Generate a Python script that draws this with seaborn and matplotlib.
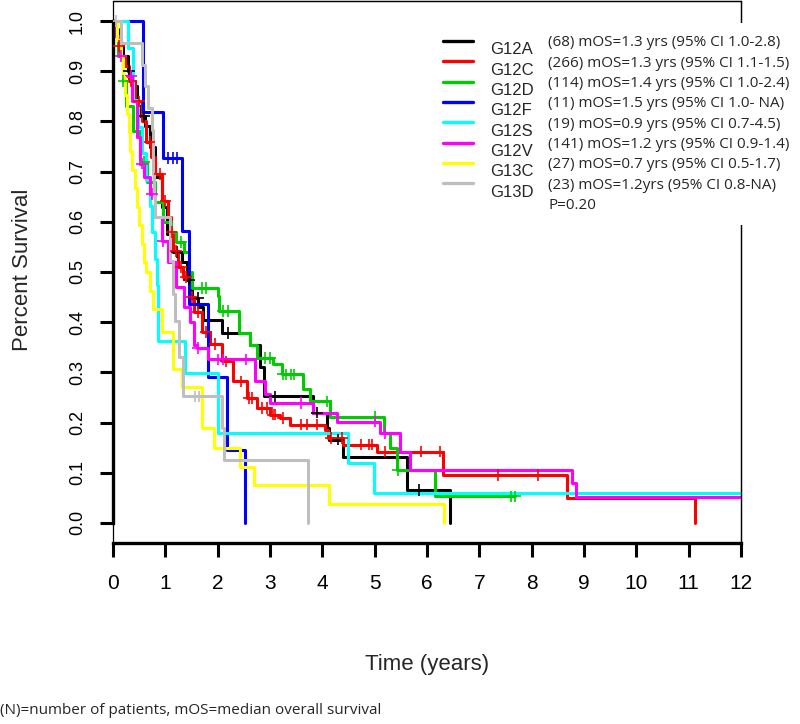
import numpy as np
import pandas as pd
import seaborn as sns
import matplotlib.pyplot as plt
from matplotlib.lines import Line2D
from matplotlib.patches import Rectangle

sns.set_style('white')
plt.rcParams['font.family'] = ['Liberation Sans', 'DejaVu Sans']

groups = ['G12A', 'G12C', 'G12D', 'G12F', 'G12S', 'G12V', 'G13C', 'G13D']
colors = ['#000000', '#ff0000', '#00cd00', '#0000ff', '#00ffff', '#ff00ff', '#ffff00', '#bebebe']
notes = ['(68) mOS=1.3 yrs (95% CI 1.0-2.8)',
         '(266) mOS=1.3 yrs (95% CI 1.1-1.5)',
         '(114) mOS=1.4 yrs (95% CI 1.0-2.4)',
         '(11) mOS=1.5 yrs (95% CI 1.0- NA)',
         '(19) mOS=0.9 yrs (95% CI 0.7-4.5)',
         '(141) mOS=1.2 yrs (95% CI 0.9-1.4)',
         '(27) mOS=0.7 yrs (95% CI 0.5-1.7)',
         '(23) mOS=1.2yrs (95% CI 0.8-NA)']
p_value = 'P=0.20'

# step functions: survival holds from each time onwards
g12a_t = [0, 0.05, 0.1, 0.15, 0.2, 0.28, 0.36, 0.45, 0.52, 0.61, 0.7, 0.8, 0.93, 1.03, 1.15, 1.32, 1.41,
          1.5, 1.63, 1.72, 2.08, 2.62, 2.81, 2.88, 3.83, 4.09, 4.12, 4.4, 5.61, 6.44]
g12a_s = [1.0, 0.985, 0.97, 0.956, 0.93, 0.9, 0.87, 0.83, 0.81, 0.79, 0.75, 0.69, 0.63, 0.575, 0.54, 0.52, 0.485,
          0.449, 0.43, 0.405, 0.379, 0.355, 0.31, 0.252, 0.22, 0.19, 0.166, 0.132, 0.066, 0.0]
g12a_c = [0.3, 0.6, 1.22, 1.45, 1.62, 2.2, 3.1, 3.9, 4.3, 5.84]

g12c_t = [0, 0.05, 0.1, 0.15, 0.23, 0.3, 0.42, 0.55, 0.64, 0.72, 0.8, 0.93, 1.06, 1.1, 1.15, 1.25, 1.34, 1.45,
          1.54, 1.7, 1.85, 2.08, 2.3, 2.56, 2.75, 3.0, 3.19, 3.38, 4.05, 4.1, 4.4, 5.04, 6.31, 8.68, 11.13]
g12c_s = [1.0, 0.97, 0.95, 0.93, 0.91, 0.88, 0.84, 0.8, 0.76, 0.73, 0.695, 0.642, 0.61, 0.58, 0.542, 0.51, 0.49,
          0.45, 0.42, 0.38, 0.356, 0.322, 0.282, 0.249, 0.229, 0.216, 0.209, 0.196, 0.186, 0.169, 0.156, 0.142,
          0.096, 0.049, 0.0]
g12c_c = [0.12, 0.35, 0.5, 0.7, 0.9, 1.0, 1.12, 1.2, 1.3, 1.4, 1.5, 1.62, 1.78, 1.95, 2.15, 2.45, 2.6, 2.66,
          2.85, 2.95, 3.05, 3.1, 3.25, 3.6, 3.7, 3.9, 4.17, 4.37, 4.74, 4.9, 4.95, 5.2, 5.89, 6.24, 7.36, 8.13]

g12d_t = [0, 0.05, 0.1, 0.2, 0.25, 0.39, 0.52, 0.65, 0.8, 0.96, 1.1, 1.2, 1.35, 1.45, 1.5, 2.0, 2.03, 2.4,
          2.62, 2.75, 3.06, 3.22, 3.64, 3.77, 4.15, 5.17, 5.3, 5.42, 6.16, 7.69]
g12d_s = [1.0, 0.97, 0.93, 0.88, 0.83, 0.78, 0.72, 0.68, 0.64, 0.6, 0.58, 0.56, 0.54, 0.5, 0.468, 0.452, 0.422,
          0.379, 0.355, 0.329, 0.316, 0.296, 0.266, 0.242, 0.212, 0.18, 0.15, 0.106, 0.053, 0.053]
g12d_c = [0.2, 0.6, 1.3, 1.7, 1.78, 2.1, 2.2, 2.9, 3.0, 3.25, 3.3, 3.4, 3.45, 4.08, 5.0, 5.45, 7.6, 7.69]

g12f_t = [0, 0.57, 0.96, 1.31, 1.45, 1.82, 2.18, 2.52]
g12f_s = [1.0, 0.818, 0.727, 0.582, 0.436, 0.291, 0.145, 0.0]
g12f_c = [1.05, 1.15, 1.22]

g12s_t = [0, 0.29, 0.39, 0.48, 0.55, 0.64, 0.7, 0.75, 0.8, 0.84, 0.86, 1.38, 2.0, 4.5, 4.98, 12.0]
g12s_s = [1.0, 0.947, 0.842, 0.789, 0.737, 0.684, 0.632, 0.579, 0.526, 0.474, 0.362, 0.298, 0.179, 0.119,
          0.059, 0.059]
g12s_c = []

g12v_t = [0, 0.04, 0.13, 0.2, 0.36, 0.45, 0.52, 0.6, 0.71, 0.8, 0.93, 1.05, 1.2, 1.35, 1.47, 1.54, 1.6, 1.82,
          2.72, 2.91, 3.0, 3.83, 4.28, 5.1, 5.49, 5.68, 8.77, 8.85, 12.0]
g12v_s = [1.0, 0.97, 0.93, 0.89, 0.84, 0.77, 0.716, 0.69, 0.655, 0.61, 0.562, 0.52, 0.47, 0.43, 0.4, 0.355,
          0.349, 0.326, 0.282, 0.257, 0.239, 0.219, 0.202, 0.179, 0.142, 0.106, 0.079, 0.052, 0.052]
g12v_c = [0.15, 0.35, 0.55, 0.75, 0.95, 1.62, 2.0, 2.1, 2.55, 3.6, 5.0, 5.2]

g13c_t = [0, 0.08, 0.15, 0.2, 0.23, 0.27, 0.3, 0.33, 0.36, 0.42, 0.45, 0.5, 0.55, 0.6, 0.64, 0.7, 0.77, 0.93,
          1.15, 1.32, 1.7, 1.93, 2.43, 2.7, 4.13, 6.33]
g13c_s = [1.0, 0.963, 0.926, 0.889, 0.852, 0.815, 0.778, 0.741, 0.704, 0.667, 0.63, 0.593, 0.556, 0.519, 0.5,
          0.463, 0.426, 0.38, 0.306, 0.27, 0.19, 0.15, 0.112, 0.075, 0.037, 0.0]
g13c_c = []

g13d_t = [0, 0.16, 0.55, 0.61, 0.67, 0.74, 0.76, 0.77, 0.78, 0.8, 1.09, 1.14, 1.19, 1.26, 1.33, 2.08, 2.12, 3.72]
g13d_s = [1.0, 0.957, 0.913, 0.87, 0.826, 0.783, 0.739, 0.696, 0.652, 0.609, 0.522, 0.457, 0.402, 0.33, 0.252,
          0.189, 0.126, 0.0]
g13d_c = [0.05, 1.56, 1.65]

curves = {
    'G12A': (g12a_t, g12a_s, g12a_c), 'G12C': (g12c_t, g12c_s, g12c_c),
    'G12D': (g12d_t, g12d_s, g12d_c), 'G12F': (g12f_t, g12f_s, g12f_c),
    'G12S': (g12s_t, g12s_s, g12s_c), 'G12V': (g12v_t, g12v_s, g12v_c),
    'G13C': (g13c_t, g13c_s, g13c_c), 'G13D': (g13d_t, g13d_s, g13d_c),
}

rows, cens = [], []
for g in groups:
    t, s, c = curves[g]
    for ti, si in zip(t, s):
        rows.append((g, ti, si))
    for ci in c:
        idx = np.searchsorted(t, ci, side='right') - 1
        cens.append((g, ci, s[idx]))
df = pd.DataFrame(rows, columns=['group', 'time', 'surv'])
cdf = pd.DataFrame(cens, columns=['group', 'time', 'surv'])
pal = dict(zip(groups, colors))

fig = plt.figure(figsize=(8, 7.24), dpi=100)
ax = fig.add_axes([113 / 800, 1 - 543 / 724, 628 / 800, 542 / 724])

sns.lineplot(data=df, x='time', y='surv', hue='group', hue_order=groups, palette=pal,
             estimator=None, sort=False, drawstyle='steps-post', linewidth=2.2, legend=False, ax=ax)
sns.scatterplot(data=cdf, x='time', y='surv', hue='group', hue_order=groups, palette=pal,
                marker='+', s=70, linewidth=1.2, legend=False, ax=ax, zorder=3)

ax.set_xlim(0, 12)
ax.set_ylim(-0.04, 1.04)
ax.set_xticks(range(0, 13))
ax.set_yticks(np.arange(0, 1.01, 0.1))
ax.set_yticklabels([f'{v:.1f}' for v in np.arange(0, 1.01, 0.1)], rotation=90, va='center')
ax.tick_params(axis='x', length=10, width=2.2, labelsize=15, pad=12, direction='out', bottom=True, colors='black')
ax.tick_params(axis='y', length=9.5, width=2.2, labelsize=13, pad=10, direction='out', left=True, colors='black')

for side in ['top', 'right', 'left']:
    ax.spines[side].set_color('black')
    ax.spines[side].set_linewidth(0.9)
ax.spines['left'].set_bounds(0, 1)
ax.spines['left'].set_linewidth(2.4)
ax.spines['bottom'].set_color('black')
ax.spines['bottom'].set_linewidth(2.4)
ax.add_patch(Rectangle((0, 0), 1, 1, transform=ax.transAxes, fill=False, lw=0.9, ec='black', clip_on=False))

ax.set_xlabel('Time (years)', fontsize=16)
ax.xaxis.set_label_coords(0.5, -0.205)
ax.set_ylabel('Percent Survival', fontsize=16)
ax.yaxis.set_label_coords(-0.128, 0.504)

# white text box pasted over the plot frame
fig.add_artist(Rectangle((545 / 800, 1 - 225 / 724), 255 / 800, 202 / 724, transform=fig.transFigure,
                         fc='white', ec='none', zorder=5))
for i, g in enumerate(groups):
    y = 41 + 20.3 * i
    fig.add_artist(Line2D([443 / 800, 473 / 800], [1 - y / 724] * 2, color=pal[g], lw=2.4, zorder=6))
    fig.text(490 / 800, 1 - (y + 9) / 724, g, fontsize=12, va='center', ha='left', zorder=6)
    fig.text(548 / 800, 1 - (y + 2) / 724, notes[i], fontsize=11, family='Open Sans', va='center', ha='left', zorder=6)
fig.text(548 / 800, 1 - (43 + 20.3 * 8) / 724, p_value, fontsize=11, family='Open Sans', va='center', zorder=6)

fig.text(0.0, 1 - 711 / 724, '(N)=number of patients, mOS=median overall survival', fontsize=11,
         family='Open Sans', va='center', ha='left')

fig.savefig('out.png', dpi=100)
